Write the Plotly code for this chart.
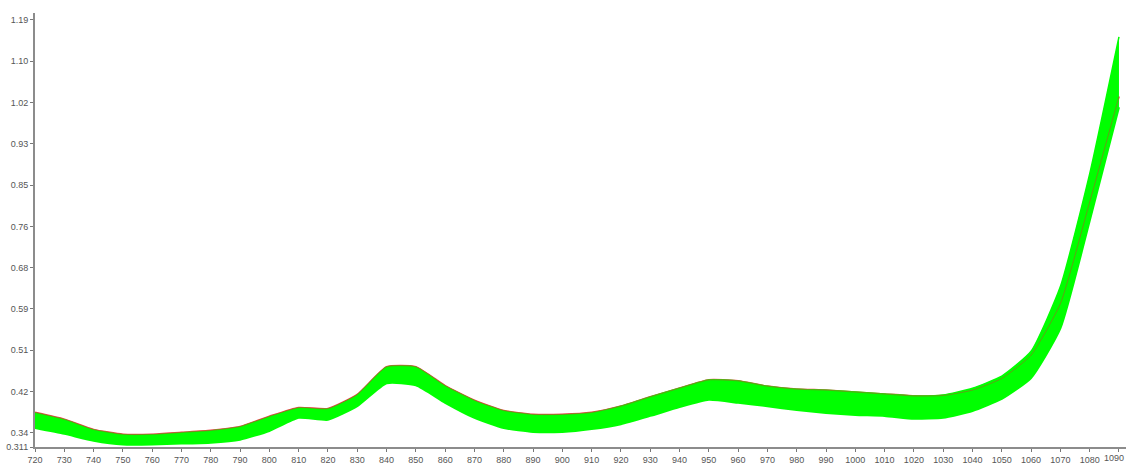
import plotly.graph_objects as go

# Wavelength (nm) sampled every 10 nm
WAVELENGTH = [720, 730, 740, 750, 760, 770, 780, 790, 800, 810, 820, 830, 840, 850,
              860, 870, 880, 890, 900, 910, 920, 930, 940, 950, 960, 970, 980, 990,
              1000, 1010, 1020, 1030, 1040, 1050, 1060, 1070, 1080, 1090]

# Upper envelope of the green spectra bundle
UPPER = [0.381, 0.367, 0.346, 0.336, 0.336, 0.340, 0.344, 0.352, 0.373, 0.391, 0.389,
         0.418, 0.475, 0.475, 0.436, 0.406, 0.385, 0.377, 0.377, 0.381, 0.395, 0.414,
         0.432, 0.449, 0.447, 0.436, 0.430, 0.428, 0.424, 0.420, 0.416, 0.418, 0.432,
         0.457, 0.508, 0.641, 0.873, 1.155]

# Lower envelope of the green spectra bundle
LOWER = [0.350, 0.338, 0.324, 0.316, 0.316, 0.318, 0.320, 0.326, 0.344, 0.371, 0.367,
         0.395, 0.442, 0.438, 0.402, 0.371, 0.350, 0.342, 0.342, 0.348, 0.358, 0.375,
         0.393, 0.408, 0.402, 0.395, 0.387, 0.381, 0.377, 0.375, 0.369, 0.371, 0.385,
         0.410, 0.453, 0.555, 0.776, 1.010]

# Red reference spectrum
RED = [0.382, 0.368, 0.347, 0.337, 0.337, 0.341, 0.345, 0.353, 0.374, 0.392, 0.390,
       0.419, 0.476, 0.476, 0.437, 0.407, 0.386, 0.378, 0.378, 0.382, 0.395, 0.414,
       0.432, 0.449, 0.447, 0.436, 0.430, 0.428, 0.424, 0.420, 0.416, 0.417, 0.428,
       0.452, 0.500, 0.606, 0.815, 1.032]

X_TICKS = list(range(720, 1100, 10))
X_TICK_LABELS = [str(v) for v in X_TICKS]

Y_TICKS = [0.311, 0.34, 0.425, 0.51, 0.595, 0.68, 0.765, 0.85, 0.935, 1.02, 1.105, 1.19]
Y_TICK_LABELS = ["0.311", "0.34", "0.42", "0.51", "0.59", "0.68", "0.76", "0.85",
                 "0.93", "1.02", "1.10", "1.19"]

GREEN = "rgb(0,255,0)"
SHAPE = dict(shape="spline", smoothing=0.5)

fig = go.Figure()
fig.add_trace(go.Scatter(x=WAVELENGTH, y=RED, mode="lines",
                         line=dict(color="rgba(235,50,60,0.9)", width=1.8, **SHAPE),
                         showlegend=False, hoverinfo="skip"))
fig.add_trace(go.Scatter(x=WAVELENGTH, y=LOWER, mode="lines",
                         line=dict(color=GREEN, width=2, **SHAPE),
                         showlegend=False, hoverinfo="skip"))
fig.add_trace(go.Scatter(x=WAVELENGTH, y=UPPER, mode="lines",
                         line=dict(color=GREEN, width=1.5, **SHAPE),
                         fill="tonexty", fillcolor=GREEN,
                         showlegend=False, hoverinfo="skip"))
# red line partly visible over the bundle
fig.add_trace(go.Scatter(x=WAVELENGTH, y=RED, mode="lines",
                         line=dict(color="rgba(190,70,40,0.5)", width=1, **SHAPE),
                         showlegend=False, hoverinfo="skip"))

axis_font = dict(family="Liberation Sans, Arial, sans-serif", size=9, color="#555555")

fig.update_layout(
    width=1126, height=465,
    margin=dict(l=35, r=0, t=13, b=18),
    paper_bgcolor="white", plot_bgcolor="white",
    xaxis=dict(range=[720, 1092.4], tickmode="array", tickvals=X_TICKS,
               ticktext=X_TICK_LABELS, showgrid=False, zeroline=False,
               showline=True, linecolor="#8c8c8c", linewidth=2,
               ticks="outside", ticklen=3, tickcolor="#777777",
               tickfont=axis_font),
    yaxis=dict(range=[0.311, 1.204], tickmode="array", tickvals=Y_TICKS,
               ticktext=Y_TICK_LABELS, showgrid=False, zeroline=False,
               showline=True, linecolor="#8c8c8c", linewidth=2,
               ticks="outside", ticklen=3, tickcolor="#777777",
               tickfont=axis_font),
)

# last x label, placed against the right edge so it stays fully readable
fig.add_annotation(x=1, xref="paper", y=0, yref="paper", yanchor="top",
                   yshift=-4, text=X_TICK_LABELS[-1], showarrow=False,
                   font=axis_font, xanchor="right")

fig.write_html("out.html",
               config={"displayModeBar": False},
               post_script="document.body.style.margin='0px';"
                           "document.body.style.overflow='hidden';")
